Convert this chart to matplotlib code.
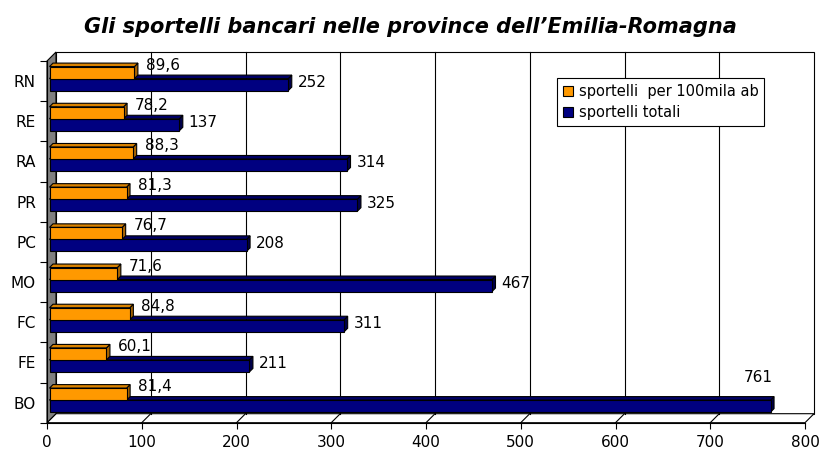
import matplotlib
matplotlib.use("Agg")
from matplotlib import pyplot as plt
from matplotlib.patches import Rectangle

"""
    Sportelli bancari - Emilia-Romagna (barre orizzontali con effetto 3D)
"""

province = ['BO', 'FE', 'FC', 'MO', 'PC', 'PR', 'RA', 'RE', 'RN']
per_100mila = [81.4, 60.1, 84.8, 71.6, 76.7, 81.3, 88.3, 78.2, 89.6]
totali = [761, 211, 311, 467, 208, 325, 314, 137, 252]
x_ticks = [0, 100, 200, 300, 400, 500, 600, 700, 800]

ORANGE = ('#FF9900', '#D98200', '#A86400')
BLUE = ('#000080', '#000066', '#00004A')

W, H = 821, 450
fig = plt.figure(figsize=(W / 100, H / 100), dpi=100)

# front plane of the plot, in pixels
left_px, right_px, top_px, bottom_px = 47, 805, 61, 422.7
ax = fig.add_axes([left_px / W, 1 - bottom_px / H,
                   (right_px - left_px) / W, (bottom_px - top_px) / H])

xmin, xmax = 0, 800
ymin, ymax = -0.5, len(province) - 0.5
ax.set_xlim(xmin, xmax)
ax.set_ylim(ymin, ymax)

# pixel -> data helpers
sx = (xmax - xmin) / (right_px - left_px)
sy = (ymax - ymin) / (bottom_px - top_px)
dx, dy = 9 * sx, 9 * sy          # depth of the walls
fx, fy = 2.5 * sx, 2.5 * sy      # bar front offset
bx, by = 3.5 * sx, 3.5 * sy      # bar depth
bar_h = 12 * sy


def poly(xs, ys, fc, z, ec='black', lw=0.8):
    ax.fill(xs, ys, facecolor=fc, edgecolor=ec, linewidth=lw,
            zorder=z, clip_on=False)


# back wall, floor and left wall
poly([xmin + dx, xmax + dx, xmax + dx, xmin + dx],
     [ymin + dy, ymin + dy, ymax + dy, ymax + dy], 'white', 0)
poly([xmin, xmax, xmax + dx, xmin + dx],
     [ymin, ymin, ymin + dy, ymin + dy], 'white', 0.5)
poly([xmin, xmin + dx, xmin + dx, xmin],
     [ymin, ymin + dy, ymax + dy, ymax], '#808080', 0.6)

# gridlines on the back wall + diagonals on the floor
for t in x_ticks[1:-1]:
    ax.plot([t + dx, t + dx], [ymin + dy, ymax + dy], color='black',
            lw=0.8, zorder=1, clip_on=False)
    ax.plot([t, t + dx], [ymin, ymin + dy], color='black',
            lw=0.8, zorder=1, clip_on=False)


def bar3d(y0, v, colors):
    x0 = xmin + fx
    y0 = y0 + fy
    y1 = y0 + bar_h
    # side face
    poly([x0 + v, x0 + v + bx, x0 + v + bx, x0 + v],
         [y0, y0 + by, y1 + by, y1], colors[2], 3)
    # top face
    poly([x0, x0 + v, x0 + v + bx, x0 + bx],
         [y1, y1, y1 + by, y1 + by], colors[1], 3)
    # front face
    poly([x0, x0 + v, x0 + v, x0], [y0, y0, y1, y1], colors[0], 3.1)


for i in range(len(province)):
    bar3d(i - bar_h, totali[i], BLUE)
    bar3d(i, per_100mila[i], ORANGE)

for i in range(len(province)):
    lab = str(per_100mila[i]).replace('.', ',')
    ax.text(per_100mila[i] + 14 * sx, i + fy + bar_h + 1.5 * sy, lab,
            fontsize=11, va='center', ha='left', zorder=5)
    if totali[i] > 700:
        ax.text(totali[i] + 5 * sx, i + 0.62, str(totali[i]),
                fontsize=11, va='center', ha='right', zorder=5)
    else:
        ax.text(totali[i] + 12 * sx, i + fy - bar_h / 2 + 2 * sy,
                str(totali[i]), fontsize=11, va='center', ha='left',
                zorder=5)

# axes styling
for s in ['top', 'right']:
    ax.spines[s].set_visible(False)
for s in ['left', 'bottom']:
    ax.spines[s].set_linewidth(0.8)
    ax.spines[s].set_zorder(2)
ax.patch.set_visible(False)

ax.set_xticks(x_ticks)
ax.set_xticklabels([str(t) for t in x_ticks], fontsize=11)
ax.tick_params(axis='x', length=4, width=0.8, pad=5)
ax.set_yticks(range(len(province)))
ax.set_yticklabels(province, fontsize=11)
ax.set_yticks([k + 0.5 for k in range(-1, len(province))], minor=True)
ax.tick_params(axis='y', which='major', length=0, pad=8)
ax.tick_params(axis='y', which='minor', length=5, width=0.8)

# legend
handles = [Rectangle((0, 0), 1, 1, facecolor=ORANGE[0], edgecolor='black', lw=0.8),
           Rectangle((0, 0), 1, 1, facecolor=BLUE[0], edgecolor='black', lw=0.8)]
leg = fig.legend(handles, ['sportelli  per 100mila ab', 'sportelli totali'],
                 loc='upper left', bbox_to_anchor=(557 / W, 1 - 78 / H),
                 fontsize=10.5, frameon=True, fancybox=False, framealpha=1,
                 edgecolor='black', borderaxespad=0, handlelength=0.7,
                 handleheight=0.7, handletextpad=0.4, borderpad=0.4,
                 labelspacing=0.45)
leg.get_frame().set_linewidth(0.8)

fig.text(410 / W, 1 - 33.3 / H,
         "Gli sportelli bancari nelle province dell\u2019Emilia-Romagna",
         family='DejaVu Sans', fontweight='bold', style='italic',
         fontsize=15, ha='center', va='baseline')

fig.savefig('out.png', dpi=100)
